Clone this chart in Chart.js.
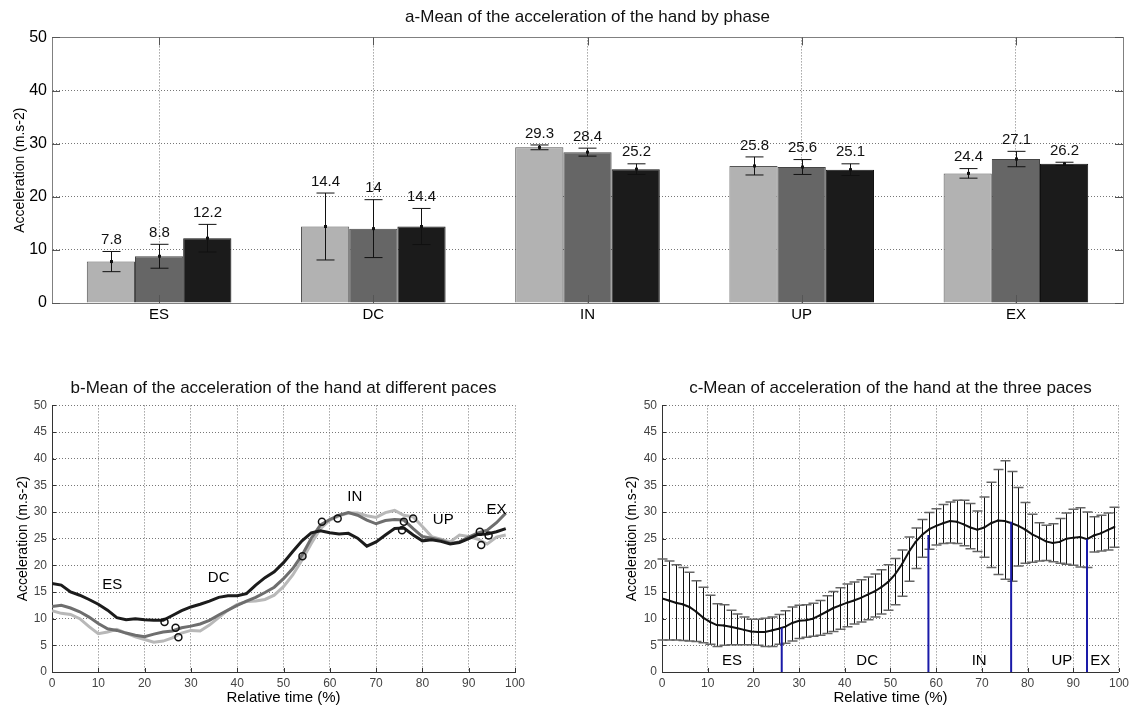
<!DOCTYPE html>
<html>
<head>
<meta charset="utf-8">
<script src="https://cdn.jsdelivr.net/npm/chart.js@4.4.0/dist/chart.umd.min.js"></script>
<style>
  body { margin: 0; background: #fff; width: 1133px; height: 708px; overflow: hidden; position: relative; }
  canvas { position: absolute; }
</style>
</head>
<body>
<canvas id="chartA" width="1133" height="330" style="left:0px;top:0px"></canvas>
<canvas id="chartB" width="566" height="348" style="left:0px;top:360px"></canvas>
<canvas id="chartC" width="567" height="348" style="left:566px;top:360px"></canvas>
<script>
// ---- a: mean by phase ----
const phases = ['ES', 'DC', 'IN', 'UP', 'EX'];
const pace1 = [7.8, 14.4, 29.3, 25.8, 24.4];
const pace2 = [8.8, 14, 28.4, 25.6, 27.1];
const pace3 = [12.2, 14.4, 25.2, 25.1, 26.2];
const pace1Err = [1.9, 6.3, 0.45, 1.7, 0.9];
const pace2Err = [2.25, 5.45, 0.75, 1.4, 1.45];
const pace3Err = [2.6, 3.4, 1.0, 1.1, 0.3];

// ---- b: mean curves at different paces ----
const timeB = [0, 2, 4, 6, 8, 10, 12, 14, 16, 18, 20, 22, 24, 26, 28, 30, 32, 34, 36, 38, 40, 42, 44, 46, 48,
               50, 52, 54, 56, 58, 60, 62, 64, 66, 68, 70, 72, 74, 76, 78, 80, 82, 84, 86, 88, 90, 92, 94, 96, 98];
const slowB = [11.5, 11.0, 10.8, 10.0, 8.5, 7.2, 7.5, 8.0, 7.3, 6.6, 6.1, 5.6, 5.8, 6.4, 7.3, 7.8, 7.7, 8.8, 10.2, 11.6,
               12.7, 13.2, 13.3, 13.6, 14.4, 16.0, 18.2, 21.0, 24.1, 26.9, 28.5, 29.3, 29.8, 29.8, 29.3, 29.0, 29.9, 30.3, 29.4, 29.1,
               27.3, 25.4, 24.9, 24.4, 25.7, 25.4, 24.9, 24.0, 25.3, 25.7];
const midB = [12.3, 12.5, 12.0, 11.3, 10.3, 9.1, 8.1, 7.8, 7.3, 6.9, 6.6, 7.1, 7.5, 7.7, 8.3, 8.6, 9.0, 9.7, 10.7, 11.6,
              12.5, 13.3, 14.0, 14.9, 15.9, 17.5, 19.4, 21.9, 25.1, 27.6, 28.6, 29.4, 29.9, 29.4, 28.5, 27.8, 28.4, 28.6, 28.5, 26.9,
              25.4, 25.1, 24.7, 24.1, 24.4, 25.3, 26.1, 26.6, 28.0, 29.8];
const fastB = [16.6, 16.3, 15.0, 14.4, 13.6, 12.7, 11.6, 10.2, 9.8, 10.0, 9.8, 9.7, 9.7, 10.6, 11.5, 12.2, 12.7, 13.3, 14.0, 14.3,
               14.3, 14.7, 16.3, 17.7, 18.8, 20.5, 22.6, 24.6, 26.1, 26.5, 26.1, 25.9, 26.0, 25.1, 23.6, 24.4, 25.7, 26.9, 27.0, 25.7,
               24.6, 24.8, 24.5, 24.0, 24.3, 25.0, 25.8, 25.9, 26.3, 26.9];
const markerX = [24.3, 26.7, 27.3, 54.1, 58.3, 61.7, 75.6, 76.0, 78.0, 92.4, 92.7, 94.3];
const markerY = [9.4, 8.3, 6.5, 21.7, 28.2, 28.8, 26.6, 28.2, 28.8, 26.3, 23.8, 25.6];
const labelBX = [13, 36, 65.4, 84.5, 96];
const labelBY = [16.3, 17.7, 32.9, 28.5, 30.5];

// ---- c: mean of the three paces with SD ----
const timeC = [0, 1.5, 3, 4.5, 6, 7.5, 9, 10.5, 12, 13.5, 15, 16.5, 18, 19.5, 21, 22.5, 24, 25.5, 27, 28.5,
               30, 31.5, 33, 34.5, 36, 37.5, 39, 40.5, 42, 43.5, 45, 46.5, 48, 49.5, 51, 52.5, 54, 55.5, 57, 58.5,
               60, 61.5, 63, 64.5, 66, 67.5, 69, 70.5, 72, 73.5, 75, 76.5, 78, 79.5, 81, 82.5, 84, 85.5, 87, 88.5,
               90, 91.5, 93, 94.5, 96, 97.5, 99];
const meanC = [13.8, 13.4, 13.0, 12.7, 12.2, 11.3, 10.2, 9.4, 8.8, 8.7, 8.5, 8.2, 7.9, 7.6, 7.5, 7.5, 7.8, 8.1, 8.5, 9.2,
               9.6, 9.7, 10.0, 10.6, 11.3, 12.0, 12.5, 13.0, 13.4, 13.9, 14.5, 15.1, 15.9, 16.9, 18.3, 20.2, 22.5, 24.4, 25.8, 26.8,
               27.4, 27.9, 28.3, 28.2, 27.7, 27.1, 26.7, 27.1, 27.9, 28.4, 28.3, 27.9, 27.4, 26.7, 25.8, 25.2, 24.5, 24.2, 24.4, 25.0,
               25.2, 25.3, 24.9, 25.6, 26.0, 26.6, 27.2];
const upperC = [21.2, 20.8, 20.1, 19.6, 18.7, 17.1, 15.9, 14.4, 12.8, 12.6, 11.6, 10.9, 10.3, 9.9, 9.9, 10.1, 10.3, 10.8, 11.5, 12.2,
                12.5, 12.6, 12.9, 13.4, 14.3, 15.1, 15.8, 16.5, 16.9, 17.3, 17.8, 18.4, 19.2, 20.1, 21.3, 22.9, 25.3, 27.0, 28.6, 29.9,
                30.6, 31.4, 31.9, 32.2, 32.2, 31.6, 30.2, 32.8, 35.6, 38.0, 39.6, 37.6, 34.6, 31.8, 29.6, 28.0, 27.5, 27.8, 28.8, 29.8,
                30.5, 30.8, 30.0, 29.1, 29.4, 29.8, 30.9];
const lowerC = [6.0, 6.0, 6.0, 5.9, 5.8, 5.7, 5.5, 5.2, 4.8, 5.0, 5.1, 5.1, 5.1, 5.1, 5.0, 4.8, 4.8, 5.2, 5.4, 5.8,
                6.3, 6.5, 6.7, 6.9, 7.2, 7.6, 8.0, 8.5, 9.0, 9.4, 9.8, 10.3, 10.9, 11.6, 12.6, 14.2, 17.0, 19.4, 21.5, 23.0,
                23.8, 24.1, 24.2, 24.1, 23.7, 23.1, 22.6, 21.5, 19.6, 18.3, 17.4, 17.0, 19.9, 20.4, 20.6, 20.8, 20.9, 20.7, 20.4, 20.2,
                20.0, 19.7, 19.6, 22.5, 22.7, 22.9, 23.4];
const boundX = [26.2, 58.3, 76.4, 93.0];
const boundY = [8.3, 25.7, 28.2, 24.9];
const labelCX = [15.3, 44.9, 69.4, 87.5, 95.9];
const labelCY = [2, 2, 2, 2, 2];

Chart.defaults.font.family = "'Liberation Sans', Arial, sans-serif";
Chart.defaults.color = '#000';

const pts = (xs, ys) => xs.map((x, i) => ({ x: x, y: ys[i] }));

// frame around the bar plot (box on)
const framePlugin = {
  id: 'frame',
  afterDatasetsDraw(chart) {
    const { ctx, chartArea: a } = chart;
    ctx.save();
    ctx.strokeStyle = '#808080';
    ctx.lineWidth = 1;
    ctx.strokeRect(Math.round(a.left) + 0.5, Math.round(a.top) + 0.5, Math.round(a.right - a.left), Math.round(a.bottom - a.top));
    ctx.restore();
  }
};

// matlab style tick marks pointing into the plot
const innerTicksPlugin = {
  id: 'innerTicks',
  afterDatasetsDraw(chart, args, opts) {
    const { ctx, chartArea: a, scales: { x, y } } = chart;
    const len = opts.len || 5;
    ctx.save();
    ctx.strokeStyle = opts.color || '#333';
    ctx.lineWidth = 1;
    ctx.beginPath();
    y.ticks.forEach((t, i) => {
      const py = Math.round(y.getPixelForTick(i)) + 0.5;
      ctx.moveTo(a.left, py); ctx.lineTo(a.left + len, py);
      if (opts.box) { ctx.moveTo(a.right, py); ctx.lineTo(a.right - len, py); }
    });
    x.ticks.forEach((t, i) => {
      const px = Math.round(x.getPixelForTick(i)) + 0.5;
      ctx.moveTo(px, a.bottom); ctx.lineTo(px, a.bottom - len);
      if (opts.box) { ctx.moveTo(px, a.top); ctx.lineTo(px, a.top + len); }
    });
    ctx.stroke();
    ctx.restore();
  }
};

const barErrorPlugin = {
  id: 'barErrors',
  afterDatasetsDraw(chart) {
    const { ctx } = chart;
    const y = chart.scales.y;
    chart.data.datasets.forEach((ds, i) => {
      chart.getDatasetMeta(i).data.forEach((bar, j) => {
        const v = ds.data[j], e = ds.errs[j];
        const top = y.getPixelForValue(v + e), bot = y.getPixelForValue(v - e), mid = y.getPixelForValue(v);
        const x = Math.round(bar.x) + 0.5;
        ctx.save();
        ctx.strokeStyle = '#111';
        ctx.lineWidth = 1;
        ctx.beginPath();
        ctx.moveTo(x, top); ctx.lineTo(x, bot);
        ctx.moveTo(x - 9, top); ctx.lineTo(x + 9, top);
        ctx.moveTo(x - 9, bot); ctx.lineTo(x + 9, bot);
        ctx.stroke();
        ctx.fillStyle = '#111';
        ctx.fillRect(x - 1.5, mid - 1.5, 3, 3);
        ctx.font = "15px 'Liberation Sans', Arial";
        ctx.textAlign = 'center';
        ctx.textBaseline = 'bottom';
        ctx.fillText(String(v), x, top - 4);
        ctx.restore();
      });
    });
  }
};

// phase names written at data coordinates
const phaseTextPlugin = {
  id: 'phaseText',
  afterDatasetsDraw(chart, args, opts) {
    const { ctx, scales: { x, y } } = chart;
    ctx.save();
    ctx.font = "15px 'Liberation Sans', Arial";
    ctx.fillStyle = '#000';
    ctx.textAlign = 'center';
    ctx.textBaseline = 'middle';
    phases.forEach((p, i) => {
      ctx.fillText(p, x.getPixelForValue(opts.xs[i]), y.getPixelForValue(opts.ys[i]));
    });
    ctx.restore();
  }
};

const sdPlugin = {
  id: 'sdBars',
  beforeDatasetsDraw(chart) {
    const { ctx, scales: { x, y } } = chart;
    ctx.save();
    timeC.forEach((t, i) => {
      const px = Math.round(x.getPixelForValue(t)) + 0.5;
      const top = y.getPixelForValue(upperC[i]), bot = y.getPixelForValue(lowerC[i]);
      ctx.strokeStyle = '#111';
      ctx.lineWidth = 1;
      ctx.beginPath(); ctx.moveTo(px, top); ctx.lineTo(px, bot); ctx.stroke();
      ctx.strokeStyle = '#666';
      ctx.lineWidth = 1.5;
      ctx.beginPath();
      ctx.moveTo(px - 5, top); ctx.lineTo(px + 5, top);
      ctx.moveTo(px - 5, bot); ctx.lineTo(px + 5, bot);
      ctx.stroke();
    });
    ctx.restore();
  }
};

function lineScales(yWidth, yTitlePad) {
  return {
    x: {
      type: 'linear', min: 0, max: 100,
      ticks: { stepSize: 10, font: { size: 12 }, color: '#444', padding: 4 },
      grid: { color: '#777', drawTicks: false },
      border: { dash: [1, 2], color: '#333' },
      title: { display: true, text: 'Relative time (%)', font: { size: 15 }, padding: { top: 0, bottom: 1 } },
      afterFit: s => { s.height = 36; }
    },
    y: {
      min: 0, max: 50,
      ticks: { stepSize: 5, font: { size: 12 }, color: '#444', padding: 5 },
      grid: { color: '#777', drawTicks: false },
      border: { dash: [1, 2], color: '#333' },
      title: { display: true, text: 'Acceleration (m.s-2)', font: { size: 14 }, padding: { top: yTitlePad, bottom: 0 } },
      afterFit: s => { s.width = yWidth; }
    }
  };
}

new Chart(document.getElementById('chartA'), {
  type: 'bar',
  data: {
    labels: phases,
    datasets: [
      { data: pace1, errs: pace1Err, backgroundColor: '#b2b2b2', borderColor: '#555', borderWidth: 1 },
      { data: pace2, errs: pace2Err, backgroundColor: '#666666', borderColor: '#444', borderWidth: 1 },
      { data: pace3, errs: pace3Err, backgroundColor: '#1b1b1b', borderColor: '#111', borderWidth: 1 }
    ]
  },
  options: {
    responsive: false,
    animation: false,
    layout: { padding: { right: 10 } },
    datasets: { bar: { categoryPercentage: 0.675, barPercentage: 1 } },
    plugins: {
      legend: { display: false },
      tooltip: { enabled: false },
      title: {
        display: true, fullSize: false,
        text: 'a-Mean of the acceleration of the hand by phase',
        font: { size: 17, weight: 'normal' }, color: '#111',
        padding: { top: 7, bottom: 10 }
      },
      innerTicks: { len: 8, box: true, color: '#555' }
    },
    scales: {
      x: {
        ticks: { font: { size: 15 }, color: '#000', padding: 3 },
        grid: { offset: false, color: '#777', drawTicks: false },
        border: { dash: [1, 2], color: '#808080' },
        afterFit: s => { s.height = 27; }
      },
      y: {
        min: 0, max: 50,
        ticks: { stepSize: 10, font: { size: 16 }, color: '#000', padding: 5 },
        grid: { color: '#777', drawTicks: false },
        border: { dash: [1, 2], color: '#808080' },
        title: { display: true, text: 'Acceleration (m.s-2)', font: { size: 14 }, padding: { top: 12, bottom: 0 } },
        afterFit: s => { s.width = 52; }
      }
    }
  },
  plugins: [framePlugin, barErrorPlugin, innerTicksPlugin]
});

new Chart(document.getElementById('chartB'), {
  type: 'scatter',
  data: {
    datasets: [
      { data: pts(markerX, markerY), pointRadius: 3.5, pointBackgroundColor: 'rgba(0,0,0,0)', pointBorderColor: '#111', pointBorderWidth: 1.5 },
      { data: pts(timeB, fastB), showLine: true, borderColor: '#1c1c1c', borderWidth: 3, pointRadius: 0 },
      { data: pts(timeB, midB), showLine: true, borderColor: '#6e6e6e', borderWidth: 3, pointRadius: 0 },
      { data: pts(timeB, slowB), showLine: true, borderColor: '#b8b8b8', borderWidth: 3, pointRadius: 0 }
    ]
  },
  options: {
    responsive: false,
    animation: false,
    layout: { padding: { right: 51 } },
    plugins: {
      legend: { display: false },
      tooltip: { enabled: false },
      title: {
        display: true, fullSize: false,
        text: 'b-Mean of the acceleration of the hand at different paces',
        font: { size: 17, weight: 'normal' }, color: '#111',
        padding: { top: 18, bottom: 7 }
      },
      phaseText: { xs: labelBX, ys: labelBY },
      innerTicks: { len: 4, color: '#333' }
    },
    scales: lineScales(52, 15)
  },
  plugins: [phaseTextPlugin, innerTicksPlugin]
});

const boundSets = boundX.map((bx, i) => ({
  data: pts([bx, bx], [0, boundY[i]]), showLine: true, borderColor: '#1a1aa8', borderWidth: 2, pointRadius: 0
}));

new Chart(document.getElementById('chartC'), {
  type: 'scatter',
  data: {
    datasets: boundSets.concat([
      { data: pts(timeC, meanC), showLine: true, borderColor: '#111', borderWidth: 2, pointRadius: 1, pointBackgroundColor: '#111', pointBorderWidth: 0 }
    ])
  },
  options: {
    responsive: false,
    animation: false,
    layout: { padding: { right: 13 } },
    plugins: {
      legend: { display: false },
      tooltip: { enabled: false },
      title: {
        display: true, fullSize: false,
        text: 'c-Mean of acceleration of the hand at the three paces',
        font: { size: 17, weight: 'normal' }, color: '#111',
        padding: { top: 18, bottom: 7 }
      },
      phaseText: { xs: labelCX, ys: labelCY },
      innerTicks: { len: 4, color: '#333' }
    },
    scales: lineScales(96, 58)
  },
  plugins: [sdPlugin, phaseTextPlugin, innerTicksPlugin]
});
</script>
</body>
</html>
